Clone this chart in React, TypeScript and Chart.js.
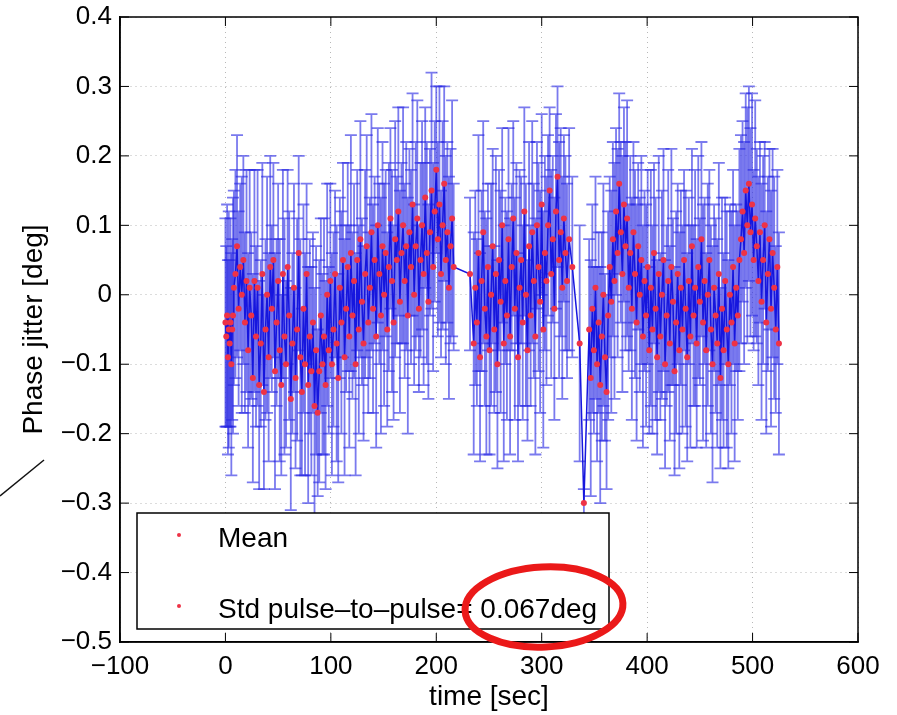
import React, { useEffect, useRef } from 'react';
import { Chart, registerables } from 'chart.js';

Chart.register(...registerables);

// pulse time stamps [sec]
const times = [
  0, 0.8, 1.6, 2.4, 3.2, 4, 4.8, 5.6, 6.4, 7.2, 8, 9.5,
  11, 12.5, 14, 15.5, 17, 18.5, 20, 21.5, 23, 24.5, 26, 27.5,
  29, 30.5, 32, 33.5, 35, 36.5, 38, 39.5, 41, 42.5, 44, 45.5,
  47, 48.5, 50, 51.5, 53, 54.5, 56, 57.5, 59, 60.5, 62, 63.5,
  65, 66.5, 68, 69.5, 71, 72.5, 74, 75.5, 77, 78.5, 80, 81.5,
  83, 84.5, 86, 87.5, 89, 90.5, 92, 93.5, 95, 96.5, 98, 99.5,
  101, 102.5, 104, 105.5, 107, 108.5, 110, 111.5, 113, 114.5, 116, 117.5,
  119, 120.5, 122, 123.5, 125, 126.5, 128, 129.5, 131, 132.5, 134, 135.5,
  137, 138.5, 140, 141.5, 143, 144.5, 146, 147.5, 149, 150.5, 152, 153.5,
  155, 156.5, 158, 159.5, 161, 162.5, 164, 165.5, 167, 168.5, 170, 171.5,
  173, 174.5, 176, 177.5, 179, 180.5, 182, 183.5, 185, 186.5, 188, 189.5,
  191, 192.5, 194, 195.5, 197, 198.5, 200, 201.5, 203, 204.5, 206, 207.5,
  209, 210.5, 212, 213.5, 215, 216.5,
  232, 235.5, 237, 238.5, 240, 241.5, 243, 244.5, 246, 247.5, 249, 250.5,
  252, 253.5, 255, 256.5, 258, 259.5, 261, 262.5, 264, 265.5, 267, 268.5,
  270, 271.5, 273, 274.5, 276, 277.5, 279, 280.5, 282, 283.5, 285, 286.5,
  288, 289.5, 291, 292.5, 294, 295.5, 297, 298.5, 300, 301.5, 303, 304.5,
  306, 307.5, 309, 310.5, 312, 313.5, 315, 316.5, 318, 319.5, 321, 322.5,
  324, 326, 329, 336, 340,
  345, 346.5, 348, 349.5, 351, 352.5, 354, 355.5, 357, 358.5, 360, 361.5,
  363, 364.5, 366, 367.5, 369, 370.5, 372, 373.5, 375, 376.5, 378, 379.5,
  381, 382.5, 384, 385.5, 387, 388.5, 390, 391.5, 393, 394.5, 396, 397.5,
  399, 400.5, 402, 403.5, 405, 406.5, 408, 409.5, 411, 412.5, 414, 415.5,
  417, 418.5, 420, 421.5, 423, 424.5, 426, 427.5, 429, 430.5, 432, 433.5,
  435, 436.5, 438, 439.5, 441, 442.5, 444, 445.5, 447, 448.5, 450, 451.5,
  453, 454.5, 456, 457.5, 459, 460.5, 462, 463.5, 465, 466.5, 468, 469.5,
  471, 472.5, 474, 475.5, 477, 478.5, 480, 481.5, 483, 484.5, 486, 487.5,
  489, 490.5, 492, 493.5, 495, 496.5, 498, 499.5, 501, 502.5, 504, 505.5,
  507, 508.5, 510, 511.5, 513, 514.5, 516, 517.5, 519, 520.5, 522, 523.5,
  525,
];

// mean phase per pulse [deg]
const means = [
  -0.04, -0.06, -0.03, -0.09, -0.05, -0.07, -0.04, -0.1, -0.05, -0.03, 0.01, 0.03,
  0.07, -0.02, 0.04, 0.0, 0.05, -0.04, 0.02, -0.08, 0.01, -0.03, -0.12, 0.02,
  -0.06, 0.01, -0.13, -0.07, 0.03, -0.14, -0.05, 0.0, -0.09, 0.04, -0.02, 0.05,
  -0.11, -0.04, 0.02, -0.08, -0.13, 0.03, -0.06, -0.1, 0.04, -0.03, -0.15, -0.07,
  0.01, -0.12, -0.05, 0.06, -0.09, -0.14, -0.02, -0.1, 0.03, -0.13, -0.06, -0.11,
  -0.04, -0.16, -0.08, -0.17, -0.11, -0.03, -0.1, -0.06, -0.13, 0.0, -0.08, 0.02,
  -0.1, -0.05, 0.03, -0.07, -0.12, 0.01, -0.04, 0.05, -0.09, -0.02, 0.04, -0.06,
  0.06, -0.03, 0.02, -0.1, 0.05, -0.05, 0.08, -0.01, -0.07, 0.03, 0.07, -0.04,
  0.01, 0.09, -0.02, 0.05, -0.06, 0.1, 0.03, -0.03, 0.07, 0.0, 0.06, -0.05,
  0.04, 0.11, 0.02, -0.04, 0.08, 0.05, 0.12, -0.01, 0.06, 0.1, 0.02, 0.07,
  -0.03, 0.09, 0.04, 0.13, 0.0, 0.07, 0.11, -0.02, 0.05, 0.1, 0.03, 0.14,
  0.06, -0.01, 0.09, 0.15, 0.04, 0.12, 0.18, 0.08, 0.13, 0.03, 0.1, 0.16,
  0.05, 0.09, 0.01, 0.07, 0.11, 0.04,
  0.03, -0.07, 0.01, -0.04, 0.06, -0.09, 0.02, 0.09, -0.02, -0.06, 0.04, -0.08,
  0.0, 0.07, -0.05, 0.03, -0.1, 0.05, -0.01, 0.1, -0.07, 0.02, -0.03, 0.08,
  -0.06, 0.04, 0.11, -0.02, 0.06, -0.09, 0.01, 0.05, -0.04, 0.12, 0.0, -0.08,
  0.07, -0.03, 0.09, 0.02, -0.06, 0.1, 0.04, -0.01, 0.13, -0.05, 0.06, 0.02,
  0.1, 0.15, 0.03, 0.08, -0.02, 0.12, 0.17, 0.05, 0.09, 0.01, 0.11, 0.06,
  0.02, 0.08, 0.04, -0.07, -0.3,
  -0.05, -0.12, -0.02, -0.08, 0.01, -0.1, -0.04, -0.13, -0.06, 0.0, -0.09, -0.14,
  -0.03, 0.04, -0.01, 0.08, 0.02, 0.12, 0.06, 0.16, 0.09, 0.03, 0.13, 0.07,
  0.11, 0.01, 0.06, -0.02, 0.09, 0.03, -0.04, 0.07, 0.0, 0.05, -0.06, 0.02,
  -0.03, 0.04, -0.08, 0.01, -0.05, 0.06, -0.02, -0.09, 0.03, -0.06, 0.0, 0.05,
  -0.1, -0.03, 0.02, -0.07, 0.04, -0.01, -0.11, -0.04, 0.03, -0.08, 0.01, -0.05,
  0.05, -0.02, -0.09, 0.02, -0.06, 0.07, -0.03, 0.01, -0.07, 0.04, -0.01, 0.08,
  -0.04, 0.02, -0.08, 0.0, 0.05, -0.05, -0.1, 0.01, -0.03, -0.07, 0.03, -0.12,
  -0.02, -0.08, 0.02, -0.05, -0.1, 0.0, -0.04, 0.04, -0.07, 0.01, -0.03, 0.05,
  0.08, 0.12, 0.06, 0.15, 0.1, 0.16, 0.09, 0.13, 0.05, 0.11, 0.07, 0.02,
  0.09, -0.01, 0.05, 0.1, -0.04, 0.03, 0.08, -0.02, 0.06, 0.01, -0.05, 0.04,
  -0.07,
];

// std of each pulse (error bar half height) [deg]
const errs = [
  0.15, 0.13, 0.16, 0.14, 0.17, 0.12, 0.15, 0.16, 0.13, 0.17, 0.14, 0.15,
  0.16, 0.14, 0.12, 0.17, 0.15, 0.13, 0.16, 0.14, 0.17, 0.12, 0.15, 0.16,
  0.13, 0.17, 0.15, 0.12, 0.16, 0.14, 0.13, 0.17, 0.15, 0.16, 0.12, 0.14,
  0.17, 0.12, 0.14, 0.16, 0.13, 0.15, 0.17, 0.12, 0.14, 0.15, 0.16, 0.13,
  0.15, 0.13, 0.16, 0.14, 0.17, 0.12, 0.15, 0.16, 0.13, 0.17, 0.14, 0.15,
  0.13, 0.17, 0.15, 0.12, 0.16, 0.14, 0.13, 0.17, 0.15, 0.16, 0.12, 0.14,
  0.16, 0.14, 0.12, 0.17, 0.15, 0.13, 0.16, 0.14, 0.17, 0.12, 0.15, 0.16,
  0.17, 0.12, 0.14, 0.16, 0.13, 0.15, 0.17, 0.12, 0.14, 0.15, 0.16, 0.13,
  0.13, 0.17, 0.15, 0.12, 0.16, 0.14, 0.13, 0.17, 0.15, 0.16, 0.12, 0.14,
  0.15, 0.13, 0.16, 0.14, 0.17, 0.12, 0.15, 0.16, 0.13, 0.17, 0.14, 0.15,
  0.17, 0.12, 0.14, 0.16, 0.13, 0.15, 0.17, 0.12, 0.14, 0.15, 0.16, 0.13,
  0.16, 0.14, 0.12, 0.17, 0.15, 0.13, 0.12, 0.14, 0.17, 0.12, 0.15, 0.14,
  0.15, 0.13, 0.16, 0.14, 0.17, 0.12,
  0.11, 0.16, 0.14, 0.12, 0.17, 0.15, 0.13, 0.16, 0.14, 0.17, 0.12, 0.15,
  0.16, 0.14, 0.12, 0.17, 0.15, 0.13, 0.16, 0.14, 0.17, 0.12, 0.15, 0.16,
  0.17, 0.12, 0.14, 0.16, 0.13, 0.15, 0.17, 0.12, 0.14, 0.15, 0.16, 0.13,
  0.15, 0.13, 0.16, 0.14, 0.17, 0.12, 0.15, 0.16, 0.13, 0.17, 0.14, 0.15,
  0.13, 0.12, 0.15, 0.12, 0.16, 0.14, 0.13, 0.17, 0.15, 0.16, 0.12, 0.14,
  0.14, 0.16, 0.13, 0.17, 0.02,
  0.13, 0.17, 0.15, 0.12, 0.16, 0.14, 0.13, 0.17, 0.15, 0.16, 0.12, 0.14,
  0.15, 0.13, 0.16, 0.14, 0.17, 0.12, 0.15, 0.13, 0.13, 0.17, 0.14, 0.15,
  0.17, 0.12, 0.14, 0.16, 0.13, 0.15, 0.17, 0.12, 0.14, 0.15, 0.16, 0.13,
  0.16, 0.14, 0.12, 0.17, 0.15, 0.13, 0.16, 0.14, 0.17, 0.12, 0.15, 0.16,
  0.15, 0.13, 0.16, 0.14, 0.17, 0.12, 0.15, 0.16, 0.13, 0.17, 0.14, 0.15,
  0.13, 0.17, 0.15, 0.12, 0.16, 0.14, 0.13, 0.17, 0.15, 0.16, 0.12, 0.14,
  0.17, 0.12, 0.14, 0.16, 0.13, 0.15, 0.17, 0.12, 0.14, 0.15, 0.16, 0.13,
  0.16, 0.14, 0.12, 0.17, 0.15, 0.13, 0.16, 0.14, 0.17, 0.12, 0.15, 0.16,
  0.15, 0.13, 0.16, 0.14, 0.17, 0.14, 0.15, 0.16, 0.13, 0.17, 0.14, 0.15,
  0.13, 0.17, 0.15, 0.12, 0.16, 0.14, 0.13, 0.17, 0.15, 0.16, 0.12, 0.14,
  0.16,
];

const xTicks = [-100, 0, 100, 200, 300, 400, 500, 600];
const yTicks = [-0.5, -0.4, -0.3, -0.2, -0.1, 0, 0.1, 0.2, 0.3, 0.4];
const legendLabels = ['Mean', 'Std pulse\u2013to\u2013pulse= 0.067deg'];

const FONT = '"Liberation Sans", Arial, Helvetica, sans-serif';
const RED = 'rgb(238, 50, 70)';

const fmt = (v: number | string) =>
  String(Math.round(Number(v) * 10) / 10).replace('-', '\u2212');

const errorBars = {
  id: 'errorBars',
  beforeDatasetsDraw(chart: any) {
    const { ctx, scales } = chart;
    const { x, y } = scales;
    ctx.save();
    ctx.strokeStyle = 'rgba(40, 40, 228, 0.62)';
    ctx.lineWidth = 1.8;
    times.forEach((t, i) => {
      const px = x.getPixelForValue(t);
      const hi = y.getPixelForValue(means[i] + errs[i]);
      const lo = y.getPixelForValue(means[i] - errs[i]);
      ctx.beginPath();
      ctx.moveTo(px, hi);
      ctx.lineTo(px, lo);
      ctx.moveTo(px - 6, hi);
      ctx.lineTo(px + 6, hi);
      ctx.moveTo(px - 6, lo);
      ctx.lineTo(px + 6, lo);
      ctx.stroke();
    });
    ctx.restore();
  },
};

// matlab style box, inward ticks, legend and the hand drawn marks
const frame = {
  id: 'frame',
  afterDraw(chart: any) {
    const { ctx, chartArea: a, scales } = chart;
    const { x, y } = scales;
    ctx.save();
    ctx.strokeStyle = '#000';
    ctx.lineWidth = 1.5;
    ctx.strokeRect(a.left, a.top, a.right - a.left, a.bottom - a.top);

    ctx.lineWidth = 1;
    ctx.beginPath();
    xTicks.forEach((v) => {
      const px = x.getPixelForValue(v);
      ctx.moveTo(px, a.bottom);
      ctx.lineTo(px, a.bottom - 9);
      ctx.moveTo(px, a.top);
      ctx.lineTo(px, a.top + 9);
    });
    yTicks.forEach((v) => {
      const py = y.getPixelForValue(v);
      ctx.moveTo(a.left, py);
      ctx.lineTo(a.left + 9, py);
      ctx.moveTo(a.right, py);
      ctx.lineTo(a.right - 9, py);
    });
    ctx.stroke();

    // legend
    const lx = a.left + 17;
    const ly = a.bottom - 129;
    const lw = 472;
    const lh = 116;
    ctx.fillStyle = '#fff';
    ctx.fillRect(lx, ly, lw, lh);
    ctx.lineWidth = 1.5;
    ctx.strokeRect(lx, ly, lw, lh);
    ctx.font = `28px ${FONT}`;
    ctx.textBaseline = 'alphabetic';
    legendLabels.forEach((label, i) => {
      const rowY = ly + 34 + i * 71;
      ctx.fillStyle = RED;
      ctx.beginPath();
      ctx.arc(lx + 42, ly + 22 + i * 71, 2, 0, Math.PI * 2);
      ctx.fill();
      ctx.fillStyle = '#000';
      ctx.fillText(label, lx + 81, rowY);
    });

    // red ellipse around the std value
    ctx.strokeStyle = 'rgb(235, 25, 25)';
    ctx.lineWidth = 7;
    ctx.beginPath();
    ctx.ellipse(a.left + 424, a.bottom - 35, 79, 40, -0.05, 0, Math.PI * 2);
    ctx.stroke();

    // pen stroke at the left edge
    ctx.strokeStyle = '#111';
    ctx.lineWidth = 1.5;
    ctx.beginPath();
    ctx.moveTo(0, 496);
    ctx.lineTo(44, 460);
    ctx.stroke();
    ctx.restore();
  },
};

const App: React.FC = () => {
  const canvasRef = useRef<HTMLCanvasElement>(null);

  useEffect(() => {
    if (!canvasRef.current) return;
    const tickFont = { family: FONT, size: 26 };
    const titleFont = { family: FONT, size: 28 };
    const chart = new Chart(canvasRef.current, {
      type: 'scatter',
      data: {
        datasets: [
          {
            data: times.map((t, i) => ({ x: t, y: means[i] })),
            showLine: true,
            borderColor: 'rgb(22, 22, 222)',
            borderWidth: 1.5,
            pointRadius: 3,
            pointBackgroundColor: RED,
            pointBorderWidth: 0,
          },
        ],
      },
      options: {
        animation: false,
        responsive: true,
        maintainAspectRatio: false,
        layout: { padding: { top: 17, right: 39, left: 0, bottom: 0 } },
        plugins: { legend: { display: false }, tooltip: { enabled: false } },
        scales: {
          x: {
            type: 'linear',
            min: -100,
            max: 600,
            afterFit: (s: any) => {
              s.height = 73;
              s.paddingLeft = 0;
              s.paddingRight = 0;
            },
            afterBuildTicks: (s: any) => {
              s.ticks = xTicks.map((v) => ({ value: v }));
            },
            ticks: { callback: fmt, font: tickFont, color: '#000', padding: 9, maxRotation: 0 },
            grid: { color: 'rgba(0, 0, 0, 0.28)', drawTicks: false, lineWidth: 1 },
            border: { color: '#000', width: 1.5, dash: [1, 4] },
            title: {
              display: true,
              text: 'time [sec]',
              font: titleFont,
              color: '#000',
              padding: { top: 0, bottom: 1 },
            },
          },
          y: {
            type: 'linear',
            min: -0.5,
            max: 0.4,
            afterFit: (s: any) => {
              s.width = 120;
              s.paddingTop = 0;
              s.paddingBottom = 0;
            },
            afterBuildTicks: (s: any) => {
              s.ticks = yTicks.map((v) => ({ value: v }));
            },
            ticks: { callback: fmt, font: tickFont, color: '#000', padding: 8 },
            grid: { color: 'rgba(0, 0, 0, 0.28)', drawTicks: false, lineWidth: 1 },
            border: { color: '#000', width: 1.5, dash: [1, 4] },
            title: {
              display: true,
              text: 'Phase jitter [deg]',
              font: titleFont,
              color: '#000',
              padding: { top: 17, bottom: 0 },
            },
          },
        },
      },
      plugins: [errorBars, frame],
    });

    return () => {
      chart.destroy();
    };
  }, []);

  return (
    <div style={{ position: 'fixed', left: 0, top: 0, width: 897, height: 715, background: '#fff' }}>
      <canvas ref={canvasRef} />
    </div>
  );
};

export default App;
